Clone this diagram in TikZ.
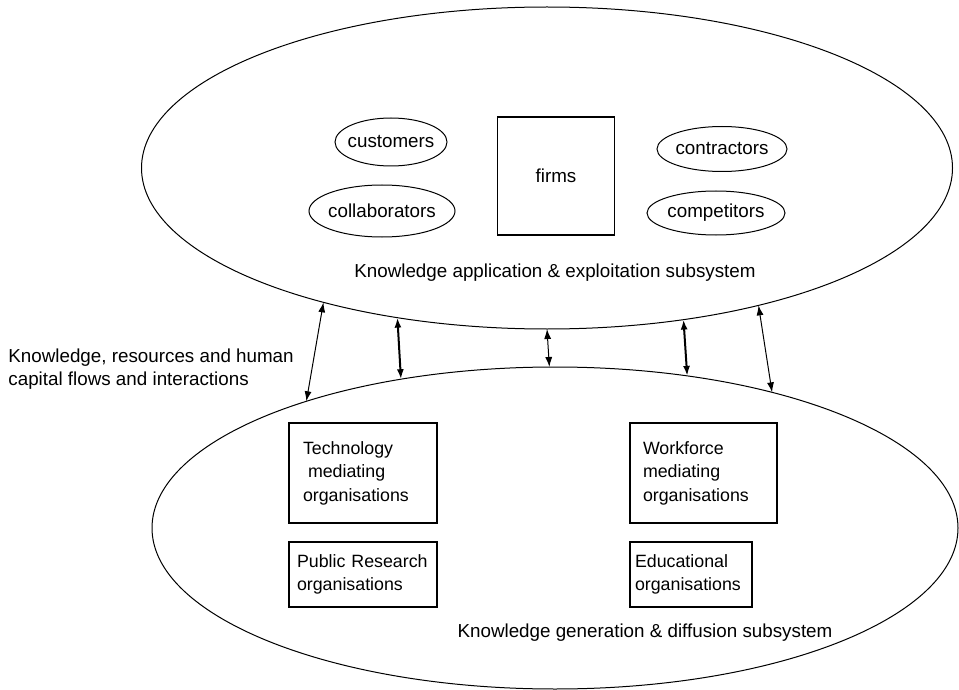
\documentclass[tikz,border=0pt]{standalone}
\usepackage{fontspec}
\setmainfont{Liberation Sans}
\usetikzlibrary{shapes.geometric, arrows.meta, positioning}
\tikzstyle{subsystem} = [ellipse, draw, line width=0.5pt, inner sep=0pt, outer sep=0pt]
\tikzstyle{actor} = [ellipse, draw, line width=0.5pt, inner xsep=-2pt, inner ysep=0pt, outer sep=0pt]
\tikzstyle{org} = [rectangle, draw, line width=0.6pt, align=left, anchor=north west, inner ysep=0pt, outer sep=0pt, font=\fontsize{8.9}{11.8}\selectfont]
\tikzstyle{flow} = [{Latex[length=5pt,width=3.5pt]}-{Latex[length=5pt,width=3.5pt]}, line width=0.5pt]

\begin{document}
\begin{tikzpicture}[x=0.5pt, y=-0.5pt, font=\fontsize{9.4}{11.6}\selectfont]
            \useasboundingbox (0,0) rectangle (959,690);

            % Subsystems
            \node[subsystem, minimum width=405.5pt, minimum height=161pt] (apply) at (547,168) {};
            \node[subsystem, minimum width=403pt, minimum height=161pt] (gen) at (555,528) {};
            \node (applylabel) at (555,273) {Knowledge application \& exploitation subsystem};
            \node (genlabel) at (645,633) {Knowledge generation \& diffusion subsystem};

            % Actors around the firms
            \node[draw, line width=0.6pt, minimum width=58.5pt, minimum height=59pt] (firms) at (556,176) {firms};
            \node[actor, minimum width=56pt, minimum height=24pt] (customers) at (391,142) {customers};
            \node[actor, minimum width=73pt, minimum height=26pt] (collab) at (382,211) {collaborators};
            \node[actor, minimum width=65pt, minimum height=22.5pt] (contractors) at (722,149) {contractors};
            \node[actor, minimum width=69pt, minimum height=22pt] (competitors) at (716,213) {competitors};

            % Organisations
            \node[org, inner xsep=7pt, text width=60pt, minimum height=50pt] (techorg) at (289,423) {Technology\\\hspace*{2.5pt}mediating\\organisations};
            \node[org, inner xsep=4pt, text width=66pt, minimum height=32.5pt] (pubres) at (289,542) {\mbox{Public Research}\\organisations};
            \node[org, inner xsep=6.5pt, text width=60.5pt, minimum height=50pt] (workorg) at (630,423) {Workforce\\mediating\\organisations};
            \node[org, inner xsep=2.5pt, text width=56pt, minimum height=32.5pt] (eduorg) at (630,542) {Educational\\organisations};

            % Flows between the subsystems
            \draw[flow] (gen.153.8) -- (apply.211.3);
            \draw[flow, line width=1pt] (gen.136.5) -- (apply.225.6);
            \draw[flow] (gen.92.5) -- (apply.270);
            \draw[flow, line width=1pt] (gen.49.4) -- (apply.312.4);
            \draw[flow] (gen.32.4) -- (apply.327.6);
            \node[align=left, anchor=north west, inner sep=0pt] (flowlabel) at (8,348) {Knowledge, resources and human\\capital flows and interactions};
        \end{tikzpicture}
\end{document}
